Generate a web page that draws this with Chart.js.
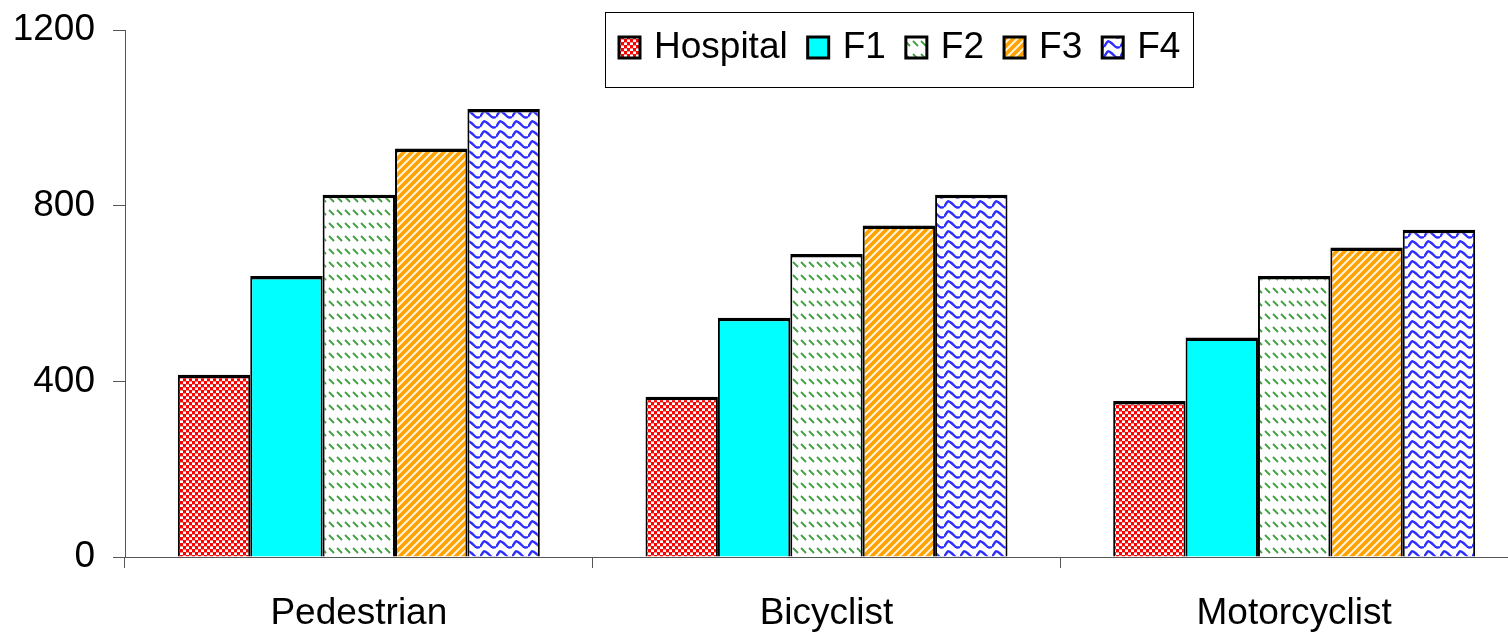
<!DOCTYPE html>
<html>
<head>
<meta charset="utf-8">
<script src="https://cdn.jsdelivr.net/npm/chart.js@4.4.0/dist/chart.umd.min.js"></script>
<style>
  html, body { margin: 0; padding: 0; background: #fff; overflow: hidden; }
  #wrap { width: 1528px; height: 633px; }
</style>
</head>
<body>
<div id="wrap"><canvas id="chartRoadUsers"></canvas></div>
<script>
const categories = ['Pedestrian', 'Bicyclist', 'Motorcyclist'];
const seriesNames = ['Hospital', 'F1', 'F2', 'F3', 'F4'];
const hospital = [415, 365, 355];
const f1 = [640, 545, 500];
const f2 = [825, 690, 640];
const f3 = [930, 755, 705];
const f4 = [1020, 825, 745];
const yTicks = [0, 400, 800, 1200];

// small tiles for the hatch fills
function tile(w, h, draw) {
    const c = document.createElement('canvas');
    c.width = w; c.height = h;
    const g = c.getContext('2d');
    draw(g);
    return document.createElement('canvas').getContext('2d').createPattern(c, 'repeat');
}

const checker = tile(6, 6, g => {
    g.fillStyle = '#ff0000'; g.fillRect(0, 0, 6, 6);
    g.fillStyle = '#ffffff';
    g.fillRect(0, 0, 3, 3); g.fillRect(3, 3, 3, 3);
    g.fillStyle = '#ff9090';
    g.fillRect(0, 0, 3, 1); g.fillRect(3, 3, 3, 1);
});
const dashes = tile(8, 13, g => {
    g.fillStyle = '#fff'; g.fillRect(0, 0, 8, 13);
    g.strokeStyle = '#3f9f3f'; g.lineWidth = 1.8;
    g.beginPath(); g.moveTo(1, 2); g.lineTo(6, 7); g.stroke();
});
const stripes = tile(8, 8, g => {
    g.fillStyle = '#ffa200'; g.fillRect(0, 0, 8, 8);
    g.strokeStyle = '#fff4e0'; g.lineWidth = 2;
    g.beginPath();
    g.moveTo(-2, 2); g.lineTo(2, -2);
    g.moveTo(-2, 10); g.lineTo(10, -2);
    g.moveTo(6, 10); g.lineTo(10, 6);
    g.stroke();
});
const waves = tile(16, 10, g => {
    g.fillStyle = '#fff'; g.fillRect(0, 0, 16, 10);
    g.strokeStyle = '#2d2dff'; g.lineWidth = 2.4;
    g.beginPath();
    g.moveTo(0, 7);
    g.bezierCurveTo(4, 0, 4, 0, 8, 3.5);
    g.bezierCurveTo(12, 7, 12, 8.5, 16, 7);
    g.stroke();
});

const fills = [checker, '#00ffff', dashes, stripes, waves];
const values = [hospital, f1, f2, f3, f4];

const legendBox = {
    id: 'legendBox',
    afterDraw(chart) {
        const ctx = chart.ctx;
        ctx.save();
        ctx.fillStyle = '#fff';
        ctx.fillRect(605.5, 12.5, 588, 75);
        ctx.strokeStyle = '#000'; ctx.lineWidth = 1;
        ctx.strokeRect(605.5, 12.5, 588, 75);
        ctx.font = '37px "Liberation Sans", Arial, sans-serif';
        ctx.textBaseline = 'middle';
        let x = 619;
        chart.data.datasets.forEach(ds => {
            ctx.fillStyle = ds.backgroundColor;
            ctx.fillRect(x, 37, 21, 21);
            ctx.lineWidth = 3; ctx.strokeStyle = '#000';
            ctx.strokeRect(x, 37, 21, 21);
            x += 21 + 14;
            ctx.fillStyle = '#000';
            ctx.fillText(ds.label, x, 48);
            x += ctx.measureText(ds.label).width + 20;
        });
        ctx.restore();
    }
};

const ctxRoad = document.getElementById('chartRoadUsers');
const chartRoad = new Chart(ctxRoad, {
    type: 'bar',
    data: {
        labels: categories,
        datasets: seriesNames.map((name, i) => ({
            label: name,
            data: values[i],
            backgroundColor: fills[i],
            borderColor: '#000',
            borderWidth: { top: 3.5, left: 2, right: 2, bottom: 0 },
            borderSkipped: 'start',
            inflateAmount: 0,
            categoryPercentage: 0.774,
            barPercentage: 1
        }))
    },
    options: {
        responsive: true,
        maintainAspectRatio: false,
        animation: false,
        layout: { padding: { top: 30, right: 0, bottom: 0, left: 0 } },
        plugins: {
            legend: { display: false },
            tooltip: { enabled: false }
        },
        scales: {
            x: {
                grid: { display: true, drawOnChartArea: false, tickLength: 11, color: '#555', offset: true },
                border: { color: '#555', width: 1 },
                ticks: { color: '#000', font: { family: '"Liberation Sans", Arial', size: 37 }, padding: 24 },
                afterFit(scale) { scale.height = 76; scale.paddingLeft = 0; scale.paddingRight = 0; }
            },
            y: {
                min: 0,
                max: 1200,
                afterBuildTicks(scale) { scale.ticks = yTicks.map(v => ({ value: v })); },
                grid: { display: true, drawOnChartArea: false, tickLength: 12, color: '#555' },
                border: { color: '#555', width: 1 },
                ticks: {
                    color: '#000',
                    font: { family: '"Liberation Sans", Arial', size: 37 },
                    padding: 18,
                    callback: v => String(v)
                },
                afterFit(scale) { scale.width = 125; scale.paddingTop = 0; scale.paddingBottom = 0; }
            }
        }
    },
    plugins: [legendBox]
});
</script>
</body>
</html>
